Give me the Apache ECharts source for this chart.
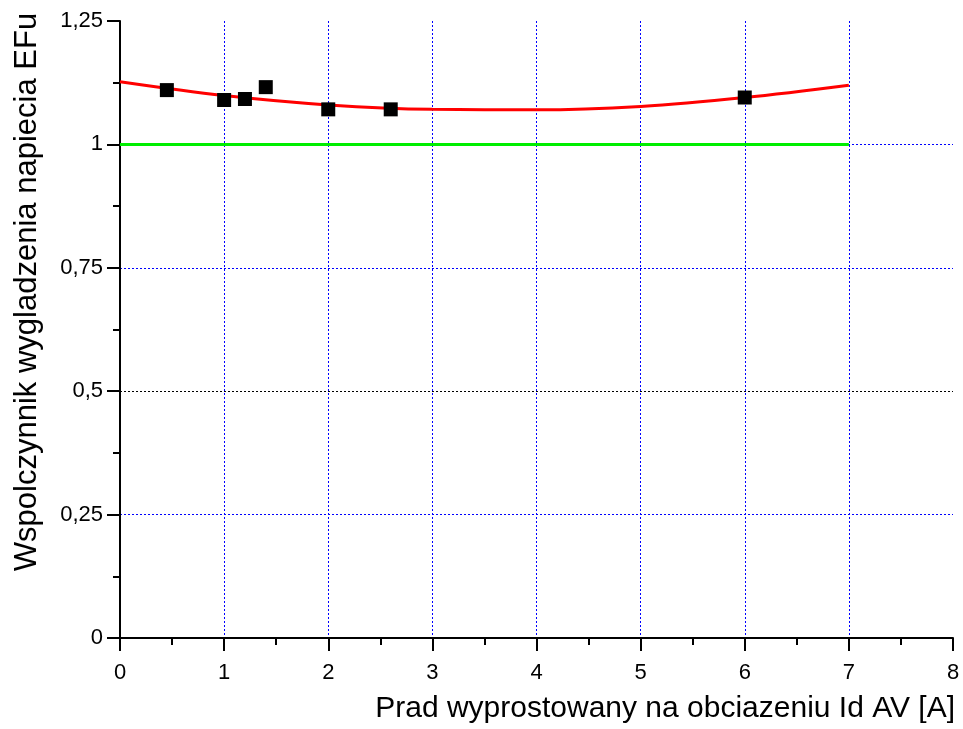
<!DOCTYPE html>
<html><head><meta charset="utf-8">
<script src="https://cdn.jsdelivr.net/npm/echarts@6/dist/echarts.min.js"></script>
<style>html,body{margin:0;padding:0;background:#fff;}#c{width:963px;height:729px;}</style>
</head><body><div id="c"></div>
<script>
// Measured points
const measX = [0.45, 1.0, 1.2, 1.4, 2.0, 2.6, 6.0];
const measY = [1.110, 1.090, 1.092, 1.116, 1.071, 1.071, 1.095];
// Fitted curve
const fitX = [0, 1, 2, 3, 4, 5, 6, 7];
const fitY = [1.127, 1.099, 1.080, 1.071, 1.070, 1.077, 1.095, 1.120];
// Reference line
const refX = [0, 7];
const refY = [1, 1];
const yTickLabels = {0: '0', 0.25: '0,25', 0.5: '0,5', 0.75: '0,75', 1: '1', 1.25: '1,25'};
const xTitle = 'Prad wyprostowany na obciazeniu Id AV [A]';
const yTitle = 'Wspolczynnik wygladzenia napiecia EFu';

const zip = (a, b) => a.map((v, i) => [v, b[i]]);
const font = 'Liberation Sans, Arial, sans-serif';
const chart = echarts.init(document.getElementById('c'));
chart.setOption({
  animation: false,
  backgroundColor: '#fff',
  grid: {left: 120, right: 10, top: 21, bottom: 91, containLabel: false},
  xAxis: {
    type: 'value', min: 0, max: 8, interval: 1,
    axisLine: {lineStyle: {color: '#000', width: 2}},
    axisTick: {inside: false, length: 13, lineStyle: {color: '#000', width: 2}},
    minorTick: {show: true, splitNumber: 2, length: 7, lineStyle: {color: '#000', width: 2}},
    axisLabel: {color: '#000', fontSize: 22, fontFamily: font, margin: 24},
    splitLine: {show: true, showMinLine: false, showMaxLine: false, lineStyle: {color: '#0000ff', type: [2, 2], width: 1}}
  },
  yAxis: {
    type: 'value', min: 0, max: 1.25, interval: 0.25,
    axisLine: {onZero: false, lineStyle: {color: '#000', width: 2}},
    axisTick: {inside: false, length: 13, lineStyle: {color: '#000', width: 2}},
    minorTick: {show: true, splitNumber: 2, length: 7, lineStyle: {color: '#000', width: 2}},
    axisLabel: {color: '#000', fontSize: 22, fontFamily: font, margin: 17,
      formatter: v => yTickLabels[Math.round(v * 100) / 100] ?? String(v).replace('.', ',')},
    splitLine: {show: true, showMinLine: false, showMaxLine: false,
      lineStyle: {color: ['#0000ff', '#000000', '#0000ff', '#0000ff'], type: [2, 2], width: 1}}
  },
  series: [
    {type: 'line', data: zip(refX, refY), symbol: 'none', lineStyle: {color: '#00ee00', width: 3}, z: 3},
    {type: 'line', data: zip(fitX, fitY), symbol: 'none', smooth: 0.35, lineStyle: {color: '#ff0000', width: 3}, z: 4},
    {type: 'scatter', data: zip(measX, measY), symbol: 'rect', symbolSize: 14, itemStyle: {color: '#000', opacity: 1}, z: 5}
  ],
  graphic: [
    {type: 'text', right: 8, top: 694, style: {text: xTitle, font: '30px ' + font, fill: '#000'}},
    {type: 'text', x: 12, y: 292, rotation: Math.PI / 2,
      style: {text: yTitle, font: '31px ' + font, fill: '#000', textAlign: 'center', textVerticalAlign: 'top'}}
  ]
});
</script></body></html>
